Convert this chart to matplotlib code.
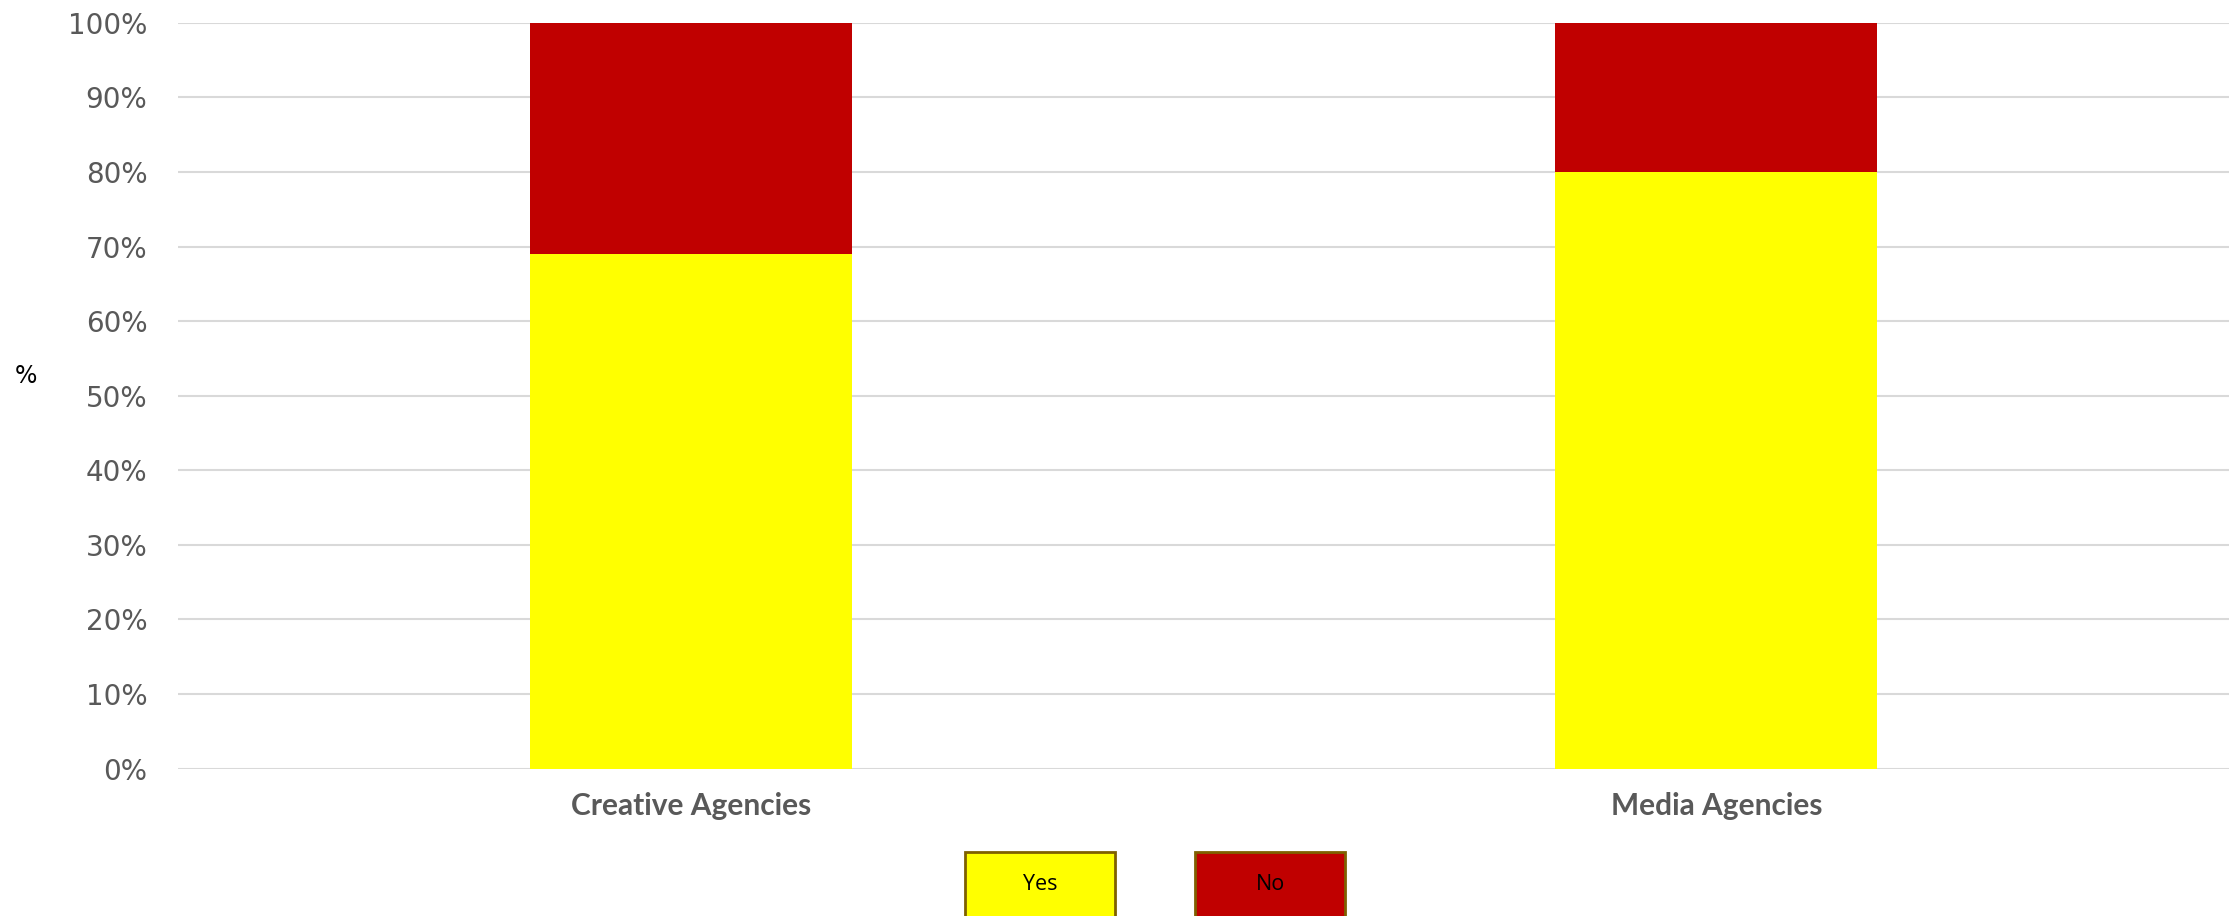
import matplotlib
matplotlib.use("Agg")
import matplotlib.pyplot as plt
from matplotlib.patches import Rectangle
from matplotlib.ticker import MultipleLocator, PercentFormatter

categories = ["Creative Agencies", "Media Agencies"]
series_names = ["Yes", "No"]
yes_vals = [69, 80]
no_vals = [31, 20]
colors = ["#FFFF00", "#C00000"]

W, H = 2239, 916
fig = plt.figure(figsize=(W / 100, H / 100), dpi=100)
ax = fig.add_axes([178 / W, 1 - 768.6 / H, (2229 - 178) / W, (768.6 - 22.9) / H])

x = list(range(len(categories)))
bw = 0.314
ax.bar(x, yes_vals, width=bw, color=colors[0], zorder=3, label=series_names[0])
ax.bar(x, no_vals, width=bw, bottom=yes_vals, color=colors[1], zorder=3, label=series_names[1])

ax.set_xlim(-0.5, len(categories) - 0.5)
ax.set_ylim(0, 100)
ax.yaxis.set_major_locator(MultipleLocator(10))
ax.yaxis.set_major_formatter(PercentFormatter(decimals=0))
ax.grid(axis="y", color="#D9D9D9", linewidth=1.5, zorder=0)
for s in ax.spines.values():
    s.set_visible(False)
ax.set_xticks(x)
ax.set_xticklabels(categories, fontfamily="Lato", fontweight="bold", fontsize=21.5, color="#595959")
ax.tick_params(axis="x", length=0, pad=17)
ax.tick_params(axis="y", length=0, pad=22, labelsize=20, labelcolor="#595959")
ax.set_ylabel("%", rotation=0, fontsize=17, color="black")
ax.yaxis.set_label_coords((26 - 178) / (2229 - 178), 0.51)

# legend boxes
bx = [965, 1195]
for i, name in enumerate(series_names):
    r = Rectangle((bx[i] / W, -0.05), 150 / W, (916 - 852) / H + 0.05, transform=fig.transFigure,
                  facecolor=colors[i], edgecolor="#7F6000", linewidth=2, clip_on=False)
    fig.add_artist(r)
    fig.text((bx[i] + 75) / W, 1 - 885 / H, name, ha="center", va="center",
             fontsize=15.5, fontfamily="Open Sans", color="black")

fig.savefig("out.png", dpi=100, facecolor="white")
